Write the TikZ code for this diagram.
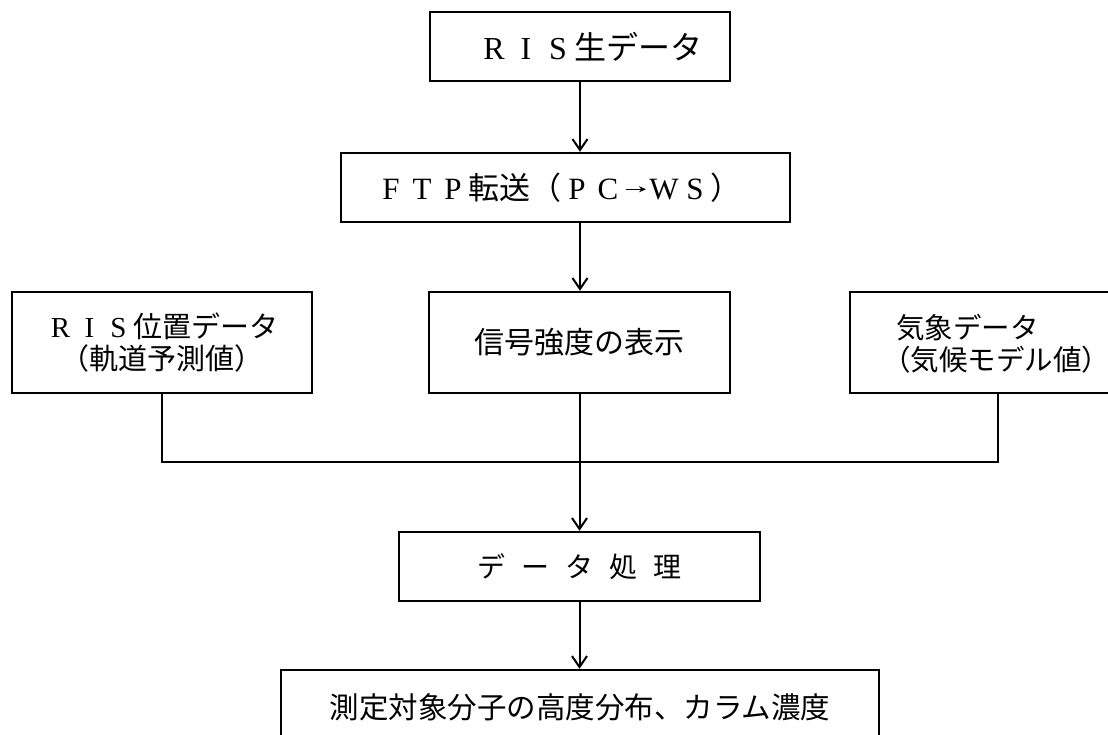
\documentclass[tikz,border=0pt]{standalone}
\usepackage{fontspec}
\newfontfamily\jp{Noto Sans CJK JP}
\newfontfamily\lat{Liberation Serif}
\newcommand{\fw}[1]{\makebox[1em][c]{\lat #1}}
\newcommand{\smallarrow}{\tikz[baseline=-10pt]\draw[line width=1.4pt,-{Stealth[length=7pt,width=6pt]}] (0pt,0pt) -- (20pt,0pt);}
\usetikzlibrary{arrows.meta}
\begin{document}
\begin{tikzpicture}[x=1pt,y=-1pt,
  box/.style={draw,line width=2.4pt,rectangle,inner sep=0pt,align=center,
    font=\jp\fontsize{29}{32}\selectfont},
  lbl/.style={inner sep=0pt,align=left,font=\jp\fontsize{28.5}{32}\selectfont},
  conn/.style={line width=2pt},
  arr/.style={conn,-{Straight Barb[length=11pt,width=15pt]}}]
\useasboundingbox[fill=white] (0,0) rectangle (1108,735);

\node[box,minimum width=300pt,minimum height=69pt,font=\jp\fontsize{32}{36}\selectfont] (raw) at (580,46.5)
  {\hspace*{20pt}\fw{R}\fw{I}\fw{S}生データ};
\node[box,minimum width=449pt,minimum height=69pt,font=\jp\fontsize{31}{34}\selectfont] (ftp) at (565.5,187.5)
  {\fw{F}\fw{T}\fw{P}転送（\fw{P}\fw{C}\makebox[0.8em][c]{\smallarrow}\fw{W}\fw{S}）\hspace*{14pt}};
\node[box,minimum width=301pt,minimum height=101pt,font=\jp\fontsize{30}{34}\selectfont] (sig) at (579.5,342.5)
  {信号強度の表示};
\node[box,minimum width=300pt,minimum height=101pt] (pos) at (162,342.5)
  {\fw{R}\fw{I}\fw{S}位置データ\\（軌道予測値）};
\node[box,minimum width=296pt,minimum height=101pt] (met) at (998,342.5) {};
\node[lbl,anchor=west] (mett) at (882,344)
  {\hspace*{0.5em}気象データ\\（気候モデル値）};
\node[box,minimum width=361pt,minimum height=69pt,font=\jp\fontsize{28}{32}\selectfont] (data) at (579.5,566.5)
  {デ\hspace{16pt}ー\hspace{16pt}タ\hspace{16pt}処\hspace{16pt}理};
\node[box,minimum width=598pt,minimum height=74pt,font=\jp\fontsize{29.5}{33}\selectfont] (res) at (580,707)
  {測定対象分子の高度分布、カラム濃度};

\coordinate (join) at (580,462);

\draw[arr] (raw.south) -- (raw.south |- ftp.north);
\draw[arr] (raw.south |- ftp.south) -- (raw.south |- sig.north);
\draw[conn] (pos.south) -- (pos.south |- join) -- (join -| met.south) -- (met.south);
\draw[arr] (sig.south) -- (data.north);
\draw[arr] (data.south) -- (data.south |- res.north);
\end{tikzpicture}
\end{document}
